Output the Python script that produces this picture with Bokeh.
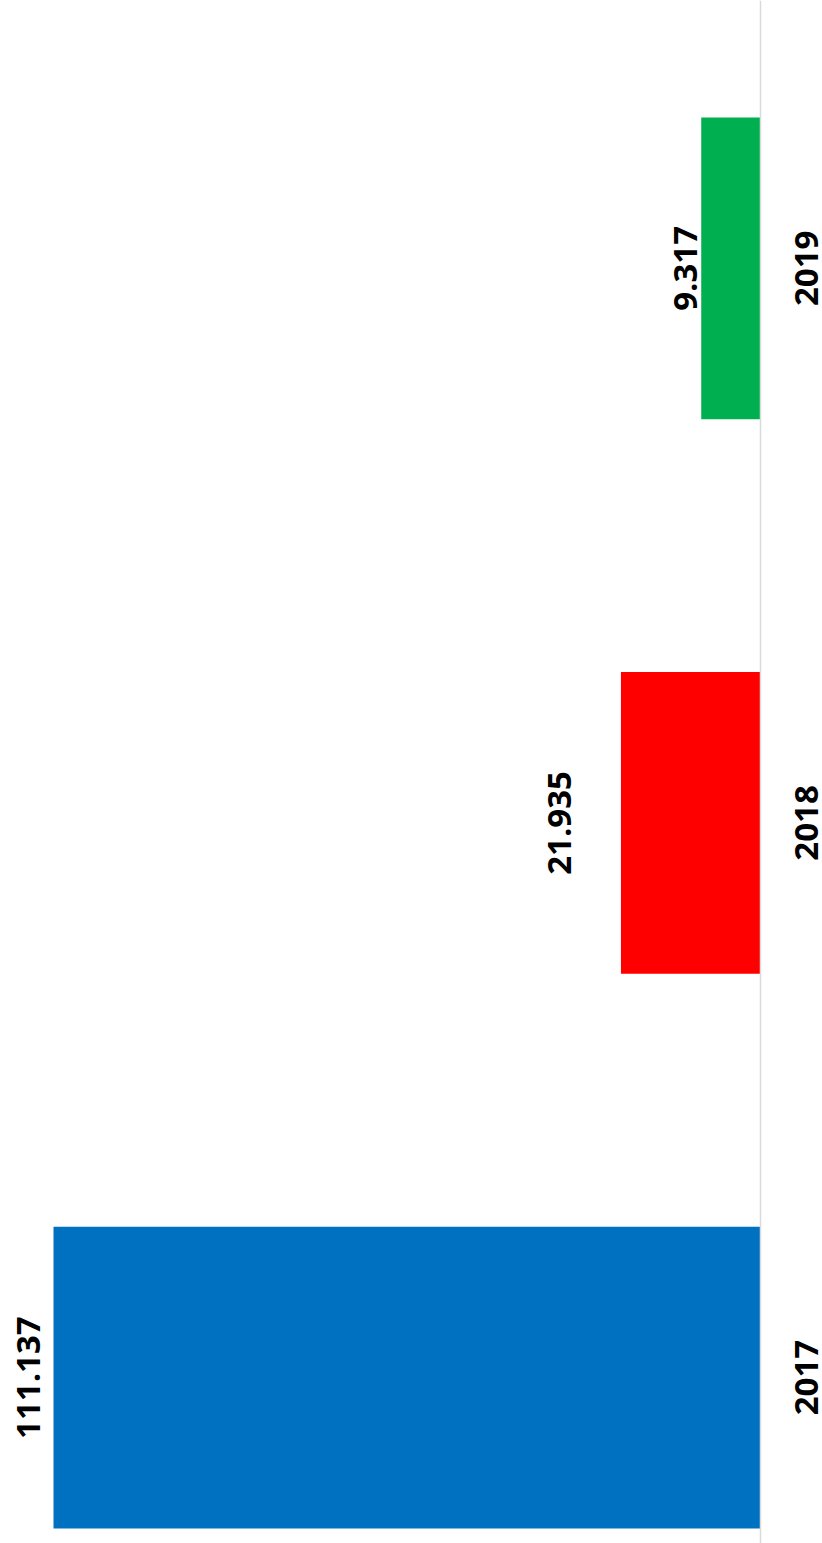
from bokeh.plotting import figure
from bokeh.models import Range1d, Span, ColumnDataSource
from bokeh.core.properties import value
from bokeh.embed import file_html
from bokeh.resources import INLINE
import math

categories = ["2017", "2018", "2019"]
values = [111.137, 21.935, 9.317]
value_labels = ["111.137", "21.935", "9.317"]
colors = ["#0070C0", "#FF0000", "#00B050"]
label_offsets = [-25, -61, -16]

ypos = list(range(len(categories)))

p = figure(width=822, height=1543, output_backend="svg", toolbar_location=None,
           x_range=Range1d(119.47, -9.746), y_range=Range1d(-0.2991, 2.4829),
           min_border=0, min_border_left=0, min_border_right=0,
           min_border_top=0, min_border_bottom=0)
p.outline_line_color = None
p.xaxis.visible = False
p.yaxis.visible = False
p.xgrid.visible = False
p.ygrid.visible = False
p.background_fill_color = "white"
p.border_fill_color = "white"

src = ColumnDataSource(dict(y=ypos, v=values, c=colors, cat=categories,
                            lab=value_labels, off=label_offsets,
                            zero=[0] * len(values)))

p.hbar(y="y", left="zero", right="v", height=0.544, fill_color="c",
       line_color=None, source=src)

p.add_layout(Span(location=0, dimension="height", line_color="#d9d9d9", line_width=1.5))

p.text(x="zero", y="y", text="cat", source=src, angle=math.pi / 2, x_offset=46,
       text_align="center", text_baseline="middle", text_font=value("Open Sans"),
       text_font_style="bold", text_font_size="33px", text_color="black")

p.text(x="v", y="y", text="lab", source=src, angle=math.pi / 2, x_offset="off",
       text_align="center", text_baseline="middle", text_font=value("Open Sans"),
       text_font_style="bold", text_font_size="33px", text_color="black")

open("out.html", "w").write(file_html(p, INLINE))
